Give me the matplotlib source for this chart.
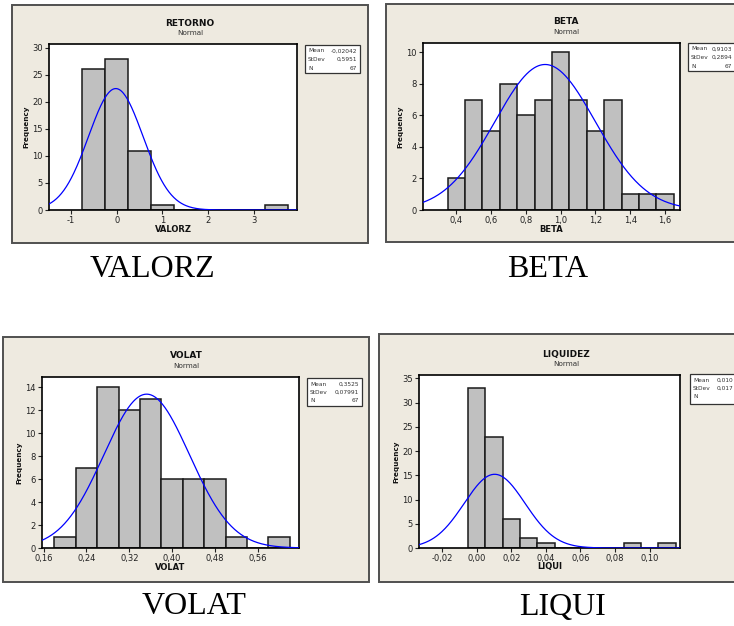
import matplotlib
matplotlib.use("Agg")
import matplotlib.pyplot as plt
from matplotlib.patches import Rectangle
import numpy as np

# =============================================
#  数据 (histogram counts)
# =============================================
valorz_centers = [-0.5, 0.0, 0.5, 1.0, 1.5, 2.0, 2.5, 3.0, 3.5]
valorz_counts = [26, 28, 11, 1, 0, 0, 0, 0, 1]
valorz_width = 0.5
valorz_stats = {"mean": -0.02042, "sd": 0.5951, "n": 67}
valorz_stat_txt = ["-0,02042", "0,5951", "67"]
valorz_xticks = [-1, 0, 1, 2, 3]
valorz_xlabels = ["-1", "0", "1", "2", "3"]
valorz_yticks = [0, 5, 10, 15, 20, 25, 30]

beta_centers = [0.4, 0.5, 0.6, 0.7, 0.8, 0.9, 1.0, 1.1, 1.2, 1.3, 1.4, 1.5, 1.6]
beta_counts = [2, 7, 5, 8, 6, 7, 10, 7, 5, 7, 1, 1, 1]
beta_width = 0.1
beta_stats = {"mean": 0.9103, "sd": 0.2894, "n": 67}
beta_stat_txt = ["0,9103", "0,2894", "67"]
beta_xticks = [0.4, 0.6, 0.8, 1.0, 1.2, 1.4, 1.6]
beta_xlabels = ["0,4", "0,6", "0,8", "1,0", "1,2", "1,4", "1,6"]
beta_yticks = [0, 2, 4, 6, 8, 10]

volat_centers = [0.20, 0.24, 0.28, 0.32, 0.36, 0.40, 0.44, 0.48, 0.52, 0.56, 0.60]
volat_counts = [1, 7, 14, 12, 13, 6, 6, 6, 1, 0, 1]
volat_width = 0.04
volat_stats = {"mean": 0.3525, "sd": 0.07991, "n": 67}
volat_stat_txt = ["0,3525", "0,07991", "67"]
volat_xticks = [0.16, 0.24, 0.32, 0.40, 0.48, 0.56]
volat_xlabels = ["0,16", "0,24", "0,32", "0,40", "0,48", "0,56"]
volat_yticks = [0, 2, 4, 6, 8, 10, 12, 14]

liqui_centers = [0.00, 0.01, 0.02, 0.03, 0.04, 0.05, 0.06, 0.07, 0.08, 0.09, 0.10, 0.11]
liqui_counts = [33, 23, 6, 2, 1, 0, 0, 0, 0, 1, 0, 1]
liqui_width = 0.01
liqui_stats = {"mean": 0.0104, "sd": 0.01757, "n": 67}
# 原图右侧被裁掉, 只能看到这几位
liqui_stat_txt = ["0,010", "0,017", ""]
liqui_xticks = [-0.02, 0.0, 0.02, 0.04, 0.06, 0.08, 0.10]
liqui_xlabels = ["-0,02", "0,00", "0,02", "0,04", "0,06", "0,08", "0,10"]
liqui_yticks = [0, 5, 10, 15, 20, 25, 30, 35]

W, H = 734, 626
BG = "#EEEAE0"
BAR = "#C0C0C0"


def fx(x):
    return x / W


def fy(y):
    return 1 - y / H


def draw_panel(fig, box, plot, leg, title, xlabel, centers, counts, width, stats,
               stat_txt, xticks, xlabels, yticks, xlim, ylim, val_right):
    # 背景框
    bx0, by0, bx1, by1 = box
    fig.patches.append(Rectangle((fx(bx0), fy(by1)), fx(bx1 - bx0), (by1 - by0) / H,
                                 transform=fig.transFigure, facecolor=BG,
                                 edgecolor="#505050", linewidth=1.4, zorder=-5))
    px0, py0, px1, py1 = plot
    ax = fig.add_axes([fx(px0), fy(py1), fx(px1 - px0), (py1 - py0) / H])
    ax.set_facecolor("white")
    ax.bar(centers, counts, width, color=BAR, edgecolor="#1a1a1a", linewidth=1.1, zorder=2)
    xs = np.linspace(xlim[0], xlim[1], 400)
    scale = stats["n"] * width
    pdf = scale / (stats["sd"] * np.sqrt(2 * np.pi)) * np.exp(-0.5 * ((xs - stats["mean"]) / stats["sd"]) ** 2)
    ax.plot(xs, pdf, color="#0000FF", linewidth=0.9, zorder=3)
    ax.set_xlim(*xlim)
    ax.set_ylim(*ylim)
    ax.set_xticks(xticks)
    ax.set_xticklabels(xlabels)
    ax.set_yticks(yticks)
    ax.tick_params(direction="out", length=3, width=0.8, labelsize=6, pad=1.5,
                   colors="#222222")
    for s in ax.spines.values():
        s.set_linewidth(1.2)
        s.set_color("black")

    cx = (bx0 + bx1) / 2
    fig.text(fx(cx), fy(py0 - 21), title, ha="center", va="center", fontsize=6.5,
             fontweight="bold", color="#111111")
    fig.text(fx(cx), fy(py0 - 11), "Normal", ha="center", va="center", fontsize=5.2,
             color="#333333")
    fig.text(fx((px0 + px1) / 2), fy(py1 + 19), xlabel, ha="center", va="center",
             fontsize=6, fontweight="bold", color="#111111")
    fig.text(fx(px0 - 23), fy((py0 + py1) / 2), "Frequency", ha="center", va="center",
             rotation=90, fontsize=5.2, fontweight="bold", color="#111111")

    # 统计量小框
    lx0, ly0, lx1, ly1 = leg
    fig.patches.append(Rectangle((fx(lx0), fy(ly1)), fx(lx1 - lx0), (ly1 - ly0) / H,
                                 transform=fig.transFigure, facecolor="white",
                                 edgecolor="#333333", linewidth=0.9, zorder=1))
    names = ["Mean", "StDev", "N"]
    for i, (nm, v) in enumerate(zip(names, stat_txt)):
        yy = ly0 + 6 + i * 8.5
        fig.text(fx(lx0 + 3), fy(yy), nm, ha="left", va="center", fontsize=4.2,
                 color="#333333", zorder=2)
        if v:
            fig.text(fx(val_right), fy(yy), v, ha="right", va="center", fontsize=4.2,
                     color="#333333", zorder=2)
    return ax


fig = plt.figure(figsize=(W / 100, H / 100), dpi=100)
fig.patch.set_facecolor("white")

draw_panel(fig, (12, 5, 368, 243), (49, 44, 297, 210), (305, 45, 360, 73),
           "RETORNO", "VALORZ", valorz_centers, valorz_counts, valorz_width,
           valorz_stats, valorz_stat_txt, valorz_xticks, valorz_xlabels,
           valorz_yticks, (-1.48, 3.94), (0, 30.7), 357)
draw_panel(fig, (386, 4, 746, 242), (423, 43, 680, 210), (688, 43, 748, 71),
           "BETA", "BETA", beta_centers, beta_counts, beta_width,
           beta_stats, beta_stat_txt, beta_xticks, beta_xlabels,
           beta_yticks, (0.208, 1.686), (0, 10.6), 732)
draw_panel(fig, (3, 337, 369, 582), (42, 377, 299, 548), (307, 378, 362, 406),
           "VOLAT", "VOLAT", volat_centers, volat_counts, volat_width,
           volat_stats, volat_stat_txt, volat_xticks, volat_xlabels,
           volat_yticks, (0.157, 0.637), (0, 14.87), 359)
draw_panel(fig, (379, 334, 753, 582), (419, 375, 680, 548), (690, 374, 750, 404),
           "LIQUIDEZ", "LIQUI", liqui_centers, liqui_counts, liqui_width,
           liqui_stats, liqui_stat_txt, liqui_xticks, liqui_xlabels,
           liqui_yticks, (-0.0333, 0.1175), (0, 35.7), 733)

# 图下方的说明文字
captions = ["VALORZ", "BETA", "VOLAT", "LIQUI"]
cap_pos = [(152, 270), (548, 270), (194, 607), (562, 607)]
for t, (x, y) in zip(captions, cap_pos):
    fig.text(fx(x), fy(y), t, ha="center", va="center", fontsize=23,
             family="Liberation Serif", color="black")

fig.savefig("out.png", dpi=100)
